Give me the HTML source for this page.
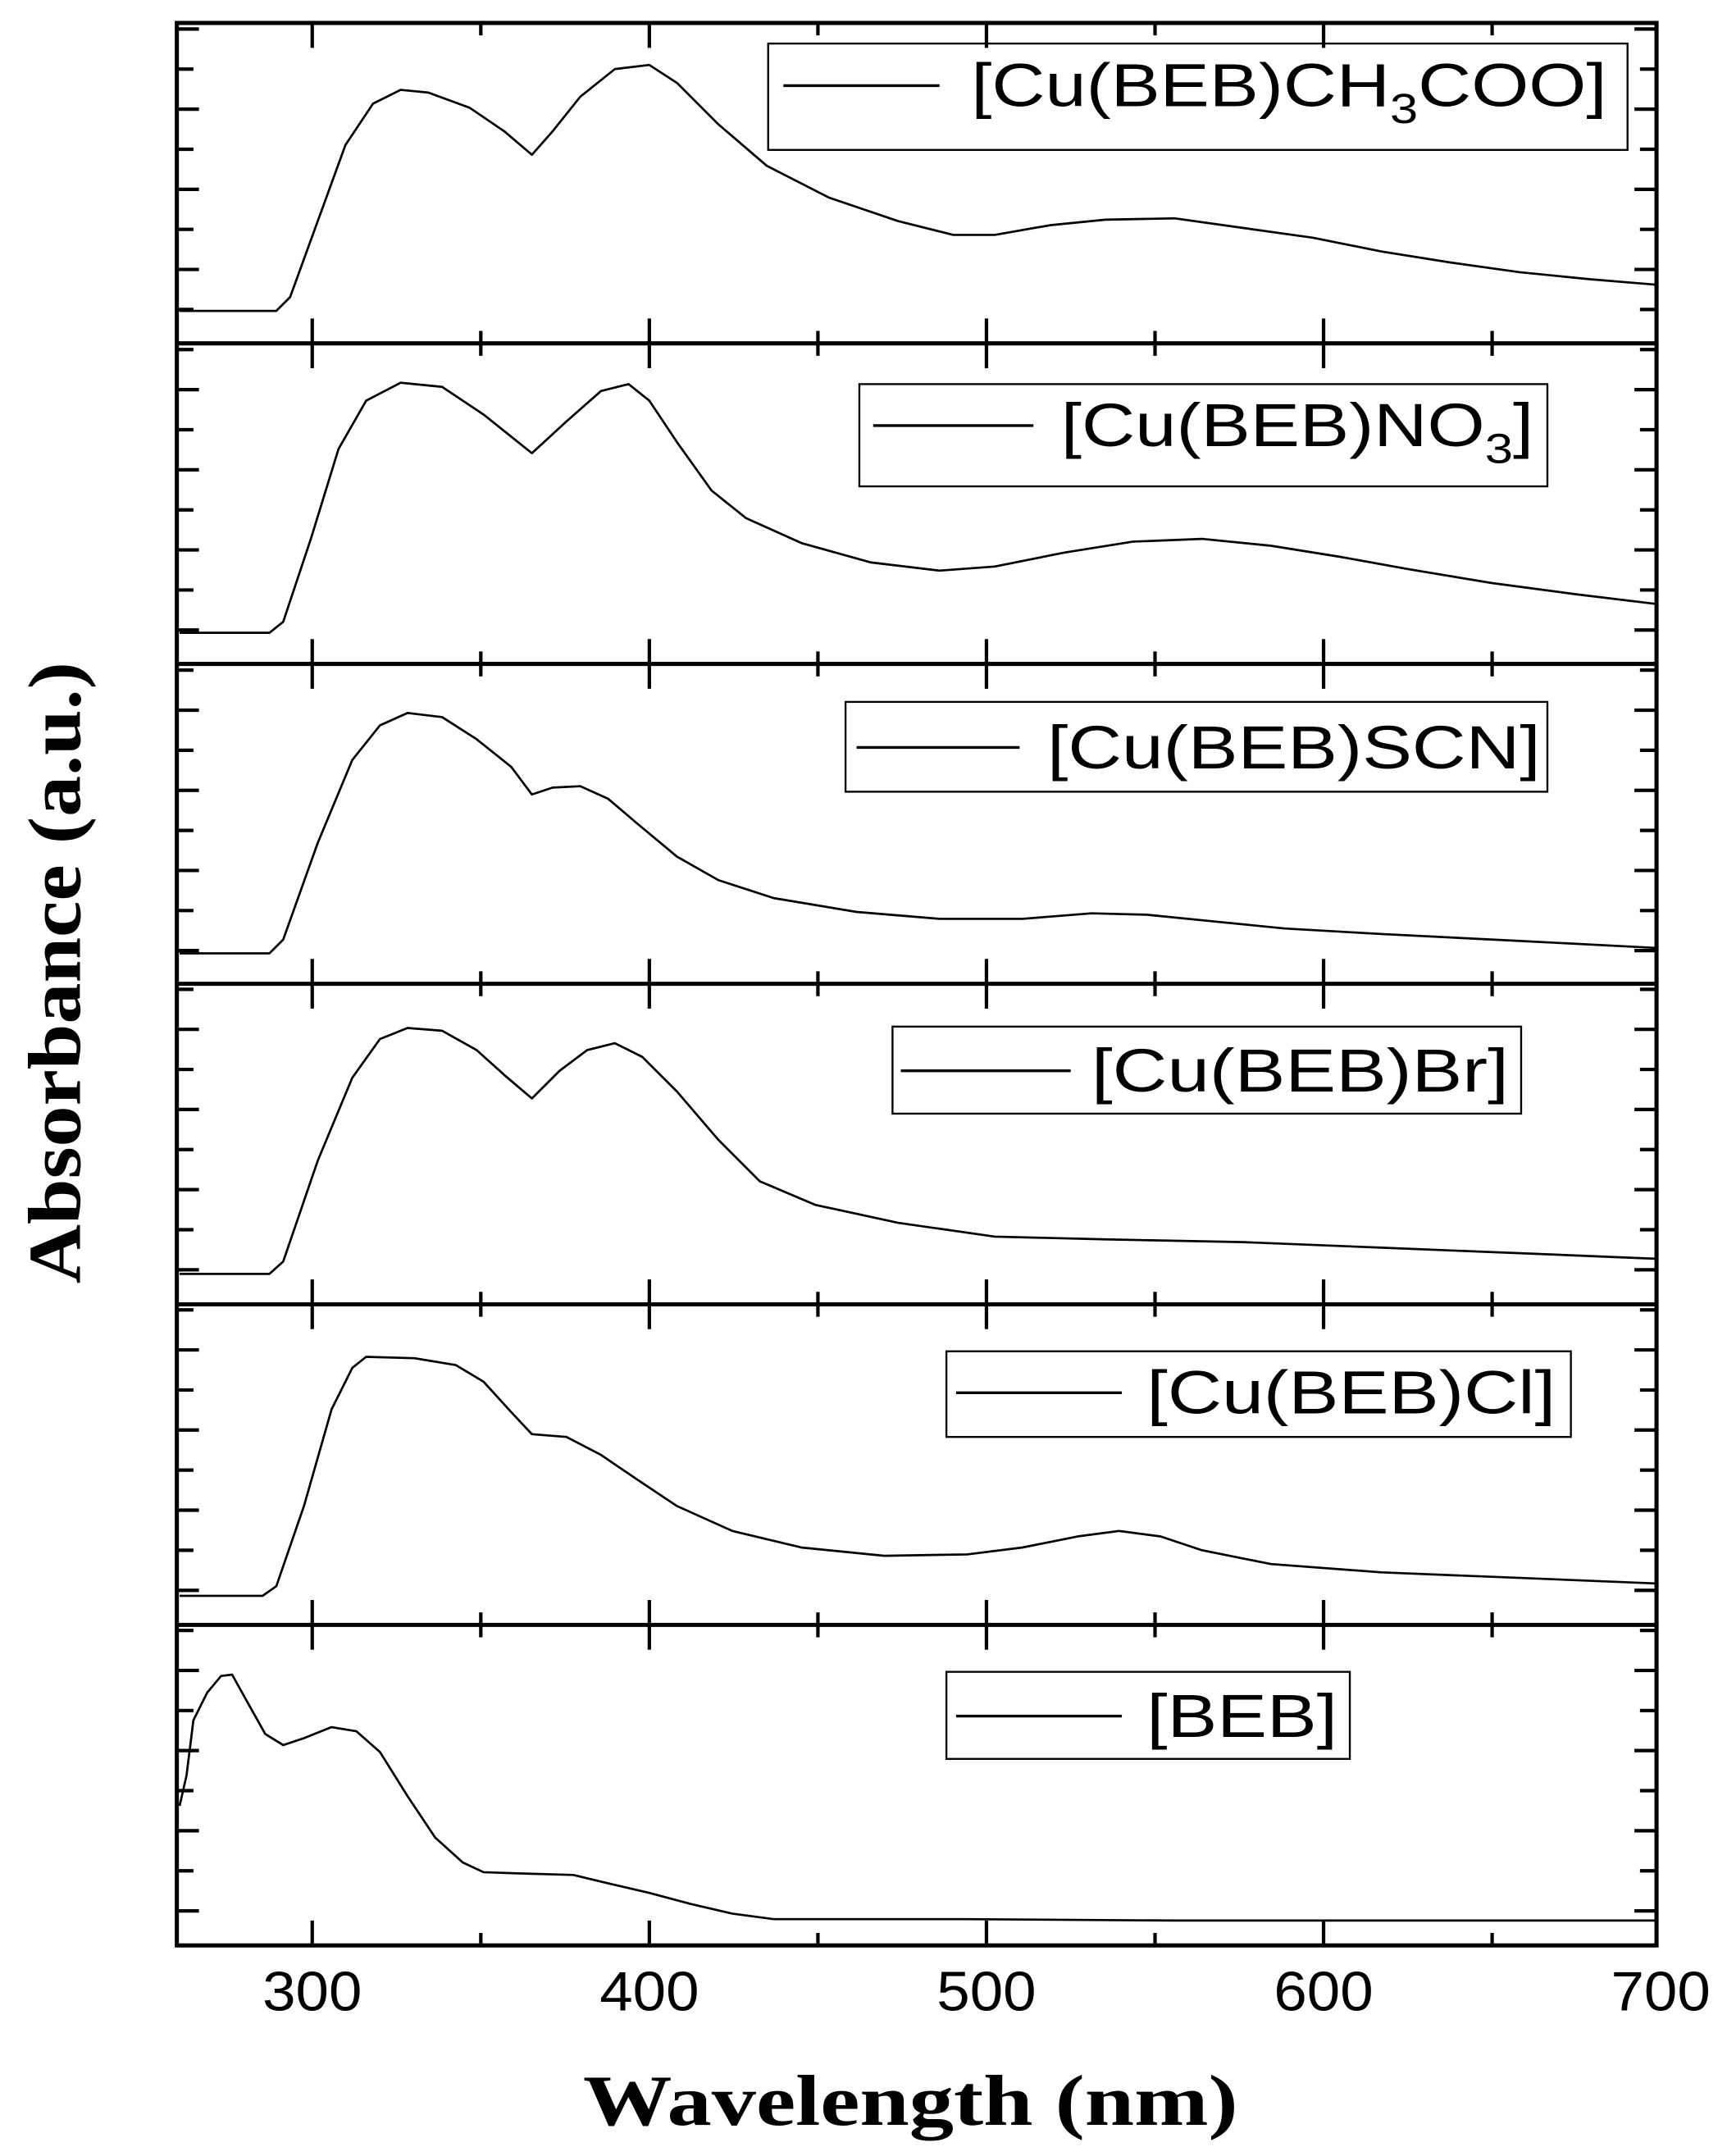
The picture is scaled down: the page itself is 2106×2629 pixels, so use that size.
<!DOCTYPE html>
<html><head><meta charset="utf-8"><style>
html,body{margin:0;padding:0;background:#fff;}
svg{display:block;}
</style></head><body>
<svg xmlns="http://www.w3.org/2000/svg" width="2106" height="2629" viewBox="0 0 1250 1560.4">
<rect width="1250" height="1560.4" fill="#fff"/>
<g id="ticks" stroke="#000" fill="none">
</g>
<g fill="none" stroke="#000" stroke-width="1.6" stroke-linejoin="round">
<polyline points="130,225 200,225 210,215 230,160 250,105 270,75 290,65 310,67 340,78 365,95 385,112 400,95 420,70 445,50 470,47 490,60 520,90 555,120 600,143 650,160 690,170 720,170 760,163 800,159 850,158 900,165 950,172 1000,182 1050,190 1100,197 1150,202 1198,206"/>
<polyline points="130,458 195,458 205,450 225,390 245,325 265,290 290,277 320,280 350,300 385,328 410,305 435,283 455,278 470,290 490,320 515,355 540,375 580,393 630,407 680,413 720,410 770,400 820,392 870,390 920,395 970,403 1020,412 1080,422 1140,430 1198,437"/>
<polyline points="130,690 195,690 205,680 230,610 255,550 275,525 295,516 320,519 345,535 370,555 385,575 400,570 420,569 440,578 460,595 490,620 520,637 560,650 620,660 680,665 740,665 790,661 830,662 880,667 930,672 1000,676 1100,681 1198,686"/>
<polyline points="130,922 195,922 205,913 230,840 255,780 275,752 295,744 320,746 345,760 365,778 385,795 405,775 425,760 445,755 465,765 490,790 520,825 550,855 590,872 650,885 720,895 800,897 900,899 1000,903 1100,907 1198,911"/>
<polyline points="130,1155 190,1155 200,1148 220,1090 240,1020 255,990 265,982 300,983 330,988 350,1000 370,1022 385,1038 410,1040 435,1053 460,1070 490,1090 530,1108 580,1120 640,1126 700,1125 740,1120 780,1112 810,1108 840,1112 870,1122 920,1132 1000,1138 1100,1142 1198,1146"/>
<polyline points="130,1307 135,1285 140,1245 150,1225 160,1213 168,1212 178,1230 192,1255 205,1263 220,1258 240,1250 258,1253 275,1268 295,1300 315,1330 335,1348 350,1355 380,1356 415,1357 440,1363 470,1370 500,1378 530,1385 560,1389 620,1389 700,1389 850,1390 1198,1390"/>
</g>
<g stroke="#000" stroke-width="1.4" fill="#fff">
<rect x="556" y="31.5" width="622" height="77"/>
<rect x="622" y="278" width="498" height="74"/>
<rect x="612" y="508" width="508" height="65"/>
<rect x="646" y="743" width="455" height="63"/>
<rect x="685" y="978" width="452" height="62"/>
<rect x="685" y="1210" width="292" height="63"/>
</g>
<g stroke="#000" stroke-width="2">
<line x1="567" y1="62" x2="680" y2="62"/>
<line x1="632" y1="308" x2="748" y2="308"/>
<line x1="620" y1="541" x2="738" y2="541"/>
<line x1="652" y1="775" x2="775" y2="775"/>
<line x1="692" y1="1008" x2="812" y2="1008"/>
<line x1="692" y1="1242" x2="812" y2="1242"/>
</g>
<g font-family="Liberation Sans, Arial, sans-serif" font-size="44" fill="#000">
<text x="703" y="77" textLength="460" lengthAdjust="spacingAndGlyphs">[Cu(BEB)CH<tspan font-size="30" dy="12">3</tspan><tspan dy="-12">COO]</tspan></text>
<text x="768" y="323" textLength="342" lengthAdjust="spacingAndGlyphs">[Cu(BEB)NO<tspan font-size="30" dy="12">3</tspan><tspan dy="-12">]</tspan></text>
<text x="758" y="556" textLength="357" lengthAdjust="spacingAndGlyphs">[Cu(BEB)SCN]</text>
<text x="790" y="790" textLength="302" lengthAdjust="spacingAndGlyphs">[Cu(BEB)Br]</text>
<text x="830" y="1023" textLength="296" lengthAdjust="spacingAndGlyphs">[Cu(BEB)Cl]</text>
<text x="830" y="1257" textLength="138" lengthAdjust="spacingAndGlyphs">[BEB]</text>
</g>
<g font-family="Liberation Sans, Arial, sans-serif" font-size="40" fill="#000" text-anchor="middle">
<text x="226" y="1455" textLength="72" lengthAdjust="spacingAndGlyphs">300</text>
<text x="470" y="1455" textLength="72" lengthAdjust="spacingAndGlyphs">400</text>
<text x="714" y="1455" textLength="72" lengthAdjust="spacingAndGlyphs">500</text>
<text x="958" y="1455" textLength="72" lengthAdjust="spacingAndGlyphs">600</text>
<text x="1202" y="1455" textLength="72" lengthAdjust="spacingAndGlyphs">700</text>
</g>
<text x="659" y="1538" font-family="Liberation Serif, serif" font-weight="bold" font-size="52" text-anchor="middle" textLength="474" lengthAdjust="spacingAndGlyphs">Wavelength (nm)</text>
<text transform="translate(58,704) rotate(-90)" font-family="Liberation Serif, serif" font-weight="bold" font-size="54" text-anchor="middle" textLength="450" lengthAdjust="spacingAndGlyphs">Absorbance (a.u.)</text>
<g stroke="#000" stroke-width="3" fill="none">
<rect x="128" y="16.6" width="1071" height="1391.4"/>
<line x1="128" y1="248.5" x2="1199" y2="248.5"/>
<line x1="128" y1="480.5" x2="1199" y2="480.5"/>
<line x1="128" y1="712" x2="1199" y2="712"/>
<line x1="128" y1="944" x2="1199" y2="944"/>
<line x1="128" y1="1176" x2="1199" y2="1176"/>
</g>
<g stroke="#000" stroke-width="2.5">
<!-- generated ticks -->
<path d="
M226,16.6v18 M470,16.6v18 M714,16.6v18 M958,16.6v18
M348,16.6v9 M592,16.6v9 M836,16.6v9 M1080,16.6v9
M226,248.5v-18 M470,248.5v-18 M714,248.5v-18 M958,248.5v-18
M348,248.5v-9 M592,248.5v-9 M836,248.5v-9 M1080,248.5v-9
M226,248.5v18 M470,248.5v18 M714,248.5v18 M958,248.5v18
M348,248.5v9 M592,248.5v9 M836,248.5v9 M1080,248.5v9
M226,480.5v-18 M470,480.5v-18 M714,480.5v-18 M958,480.5v-18
M348,480.5v-9 M592,480.5v-9 M836,480.5v-9 M1080,480.5v-9
M226,480.5v18 M470,480.5v18 M714,480.5v18 M958,480.5v18
M348,480.5v9 M592,480.5v9 M836,480.5v9 M1080,480.5v9
M226,712v-18 M470,712v-18 M714,712v-18 M958,712v-18
M348,712v-9 M592,712v-9 M836,712v-9 M1080,712v-9
M226,712v18 M470,712v18 M714,712v18 M958,712v18
M348,712v9 M592,712v9 M836,712v9 M1080,712v9
M226,944v-18 M470,944v-18 M714,944v-18 M958,944v-18
M348,944v-9 M592,944v-9 M836,944v-9 M1080,944v-9
M226,944v18 M470,944v18 M714,944v18 M958,944v18
M348,944v9 M592,944v9 M836,944v9 M1080,944v9
M226,1176v-18 M470,1176v-18 M714,1176v-18 M958,1176v-18
M348,1176v-9 M592,1176v-9 M836,1176v-9 M1080,1176v-9
M226,1176v18 M470,1176v18 M714,1176v18 M958,1176v18
M348,1176v9 M592,1176v9 M836,1176v9 M1080,1176v9
M226,1408v-18 M470,1408v-18 M714,1408v-18 M958,1408v-18
M348,1408v-9 M592,1408v-9 M836,1408v-9 M1080,1408v-9
"/>
<path d="
M128,21h16 M128,50h12 M128,79h16 M128,108h12 M128,137h16 M128,166h12 M128,195h16 M128,224h12
M1199,21h-16 M1199,50h-12 M1199,79h-16 M1199,108h-12 M1199,137h-16 M1199,166h-12 M1199,195h-16 M1199,224h-12
M128,253h12 M128,282h16 M128,311h12 M128,340h16 M128,369h12 M128,398h16 M128,427h12 M128,456h16
M1199,253h-12 M1199,282h-16 M1199,311h-12 M1199,340h-16 M1199,369h-12 M1199,398h-16 M1199,427h-12 M1199,456h-16
M128,485h12 M128,514h16 M128,543h12 M128,572h16 M128,601h12 M128,630h16 M128,659h12 M128,688h16
M1199,485h-12 M1199,514h-16 M1199,543h-12 M1199,572h-16 M1199,601h-12 M1199,630h-16 M1199,659h-12 M1199,688h-16
M128,716h12 M128,745h16 M128,774h12 M128,803h16 M128,832h12 M128,861h16 M128,890h12 M128,919h16
M1199,716h-12 M1199,745h-16 M1199,774h-12 M1199,803h-16 M1199,832h-12 M1199,861h-16 M1199,890h-12 M1199,919h-16
M128,948h12 M128,977h16 M128,1006h12 M128,1035h16 M128,1064h12 M128,1093h16 M128,1122h12 M128,1151h16
M1199,948h-12 M1199,977h-16 M1199,1006h-12 M1199,1035h-16 M1199,1064h-12 M1199,1093h-16 M1199,1122h-12 M1199,1151h-16
M128,1180h12 M128,1209h16 M128,1238h12 M128,1267h16 M128,1296h12 M128,1325h16 M128,1354h12 M128,1383h16
M1199,1180h-12 M1199,1209h-16 M1199,1238h-12 M1199,1267h-16 M1199,1296h-12 M1199,1325h-16 M1199,1354h-12 M1199,1383h-16
"/>
</g>
</svg>
</body></html>
